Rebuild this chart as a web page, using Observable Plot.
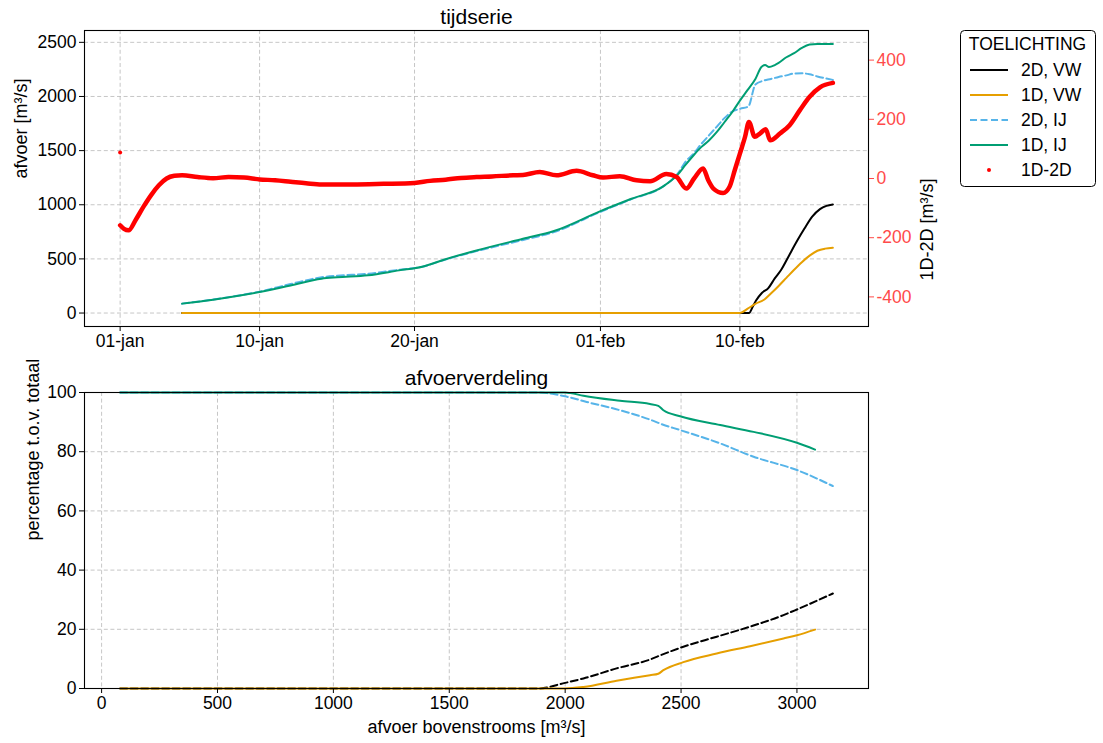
<!DOCTYPE html>
<html><head><meta charset="utf-8">
<script src="https://cdn.jsdelivr.net/npm/d3@7"></script>
<script src="https://cdn.jsdelivr.net/npm/@observablehq/plot@0.6"></script>
<style>
body{margin:0;background:#fff;font-family:"Liberation Sans",Arial,sans-serif;}
#wrap{position:relative;width:1103px;height:743px;overflow:hidden;background:#fff;}
#wrap > *{position:absolute;left:0;}
</style></head><body><div id="wrap"></div>
<script>
// ---------- DATA ----------
const monthNames = ["jan","feb"];
const dateTicks = ["2011-01-01 00","2011-01-10 00","2011-01-20 00","2011-02-01 00","2011-02-10 00"];
const leftTicks = [0,500,1000,1500,2000,2500];
const rightTicks = [-400,-200,0,200,400];
const botXTicks = [0,500,1000,1500,2000,2500,3000];
const botYTicks = [0,20,40,60,80,100];

const seriesNames = ["2D, VW","1D, VW","2D, IJ","1D, IJ","1D-2D"];
const seriesColors = ["#000000","#E69F00","#56B4E9","#009E73","#FF0000"];

// top: 2D, VW (afvoer)
const vw2dTimes = ["2011-01-05 00","2011-02-10 14","2011-02-10 20","2011-02-11 01","2011-02-11 10","2011-02-11 20","2011-02-12 06","2011-02-12 16","2011-02-13 04","2011-02-13 16","2011-02-14 04","2011-02-14 16","2011-02-15 04","2011-02-15 14","2011-02-16 00"];
const vw2dVals = [0,0,60,115,185,230,320,400,530,660,780,890,960,990,1003];
// top: 1D, VW
const vw1dTimes = ["2011-01-05 00","2011-02-10 00","2011-02-10 12","2011-02-11 00","2011-02-11 14","2011-02-12 00","2011-02-12 12","2011-02-13 00","2011-02-13 12","2011-02-14 00","2011-02-14 12","2011-02-15 00","2011-02-15 12","2011-02-16 00"];
const vw1dVals = [0,0,40,85,125,180,250,325,400,470,530,575,595,603];
// top: 2D, IJ
const ij2dTimes = ["2011-01-05 00","2011-01-07 00","2011-01-10 00","2011-01-12 00","2011-01-14 00","2011-01-15 00","2011-01-17 00","2011-01-19 00","2011-01-20 12","2011-01-22 00","2011-01-24 00","2011-01-27 00","2011-01-29 00","2011-02-01 00","2011-02-03 00","2011-02-05 00","2011-02-06 00","2011-02-06 12","2011-02-07 00","2011-02-07 12","2011-02-08 00","2011-02-08 12","2011-02-09 00","2011-02-09 12","2011-02-10 00","2011-02-10 13","2011-02-11 00","2011-02-11 12","2011-02-12 00","2011-02-12 12","2011-02-13 00","2011-02-13 12","2011-02-14 00","2011-02-14 12","2011-02-15 00","2011-02-16 00"];
const ij2dVals = [87,125,198,268,330,345,362,400,428,495,572,675,748,935,1052,1165,1290,1400,1470,1560,1640,1720,1800,1860,1886,1907,2110,2145,2162,2180,2195,2212,2214,2205,2185,2153];
// top: 1D, IJ
const ij1dTimes = ["2011-01-05 00","2011-01-07 00","2011-01-10 00","2011-01-12 00","2011-01-14 00","2011-01-15 00","2011-01-17 00","2011-01-19 00","2011-01-20 12","2011-01-22 00","2011-01-24 00","2011-01-27 00","2011-01-29 00","2011-02-01 00","2011-02-03 00","2011-02-05 00","2011-02-06 00","2011-02-06 12","2011-02-07 00","2011-02-07 12","2011-02-08 00","2011-02-08 12","2011-02-09 00","2011-02-09 12","2011-02-10 00","2011-02-10 12","2011-02-11 00","2011-02-11 09","2011-02-11 15","2011-02-11 21","2011-02-12 06","2011-02-12 12","2011-02-13 00","2011-02-13 12","2011-02-14 00","2011-02-14 12","2011-02-15 00","2011-02-16 00"];
const ij1dVals = [87,123,194,255,317,330,348,394,428,497,578,686,757,941,1055,1165,1280,1370,1455,1532,1593,1670,1762,1854,1962,2061,2162,2270,2290,2272,2290,2310,2362,2400,2448,2479,2485,2485];
// top: 1D-2D (right axis)
const diffTimes = ["2011-01-01 00","2011-01-01 06","2011-01-01 13","2011-01-02 00","2011-01-02 12","2011-01-03 00","2011-01-03 12","2011-01-04 00","2011-01-04 12","2011-01-05 00","2011-01-06 00","2011-01-07 00","2011-01-08 00","2011-01-09 00","2011-01-10 00","2011-01-11 00","2011-01-12 00","2011-01-13 00","2011-01-14 00","2011-01-16 00","2011-01-18 00","2011-01-20 00","2011-01-21 00","2011-01-22 00","2011-01-23 00","2011-01-24 00","2011-01-25 00","2011-01-26 09","2011-01-27 00","2011-01-28 02","2011-01-29 04","2011-01-30 11","2011-01-31 12","2011-02-01 04","2011-02-02 06","2011-02-03 08","2011-02-04 05","2011-02-05 06","2011-02-05 22","2011-02-06 13","2011-02-07 01","2011-02-07 15","2011-02-07 23","2011-02-08 07","2011-02-08 22","2011-02-09 08","2011-02-09 16","2011-02-10 00","2011-02-10 08","2011-02-10 14","2011-02-10 23","2011-02-11 07","2011-02-11 16","2011-02-11 23","2011-02-12 14","2011-02-13 05","2011-02-13 21","2011-02-14 12","2011-02-15 04","2011-02-16 00"];
const diffVals = [-158,-170,-175,-140,-96,-56,-23,0,9,11,5,1,5,3,-3,-6,-11,-16,-20,-20,-18,-15,-8,-4,2,5,7,11,12,22,11,26,11,3,8,-6,-9,15,5,-34,0,34,-6,-34,-49,-28,28,84,141,191,141,152,166,129,152,180,231,276,308,323];
const diffOutlierTimes = ["2011-01-01 00"];
const diffOutlierVals = [88];

// bottom: afvoerverdeling
const vw2dQ = [80,1880,2000,2079,2222,2366,2410,2510,2654,2798,2942,3000,3155];
const vw2dPct = [0,0,1.9,3.4,6.8,9.8,11.2,14.1,17.5,20.9,24.8,26.7,32.1];
const vw1dQ = [80,2000,2079,2222,2366,2402,2424,2510,2654,2798,2942,3000,3078];
const vw1dPct = [0,0,0.5,2.6,4.5,5.0,6.2,8.9,11.8,14.3,16.9,18.0,19.9];
const ij2dQ = [80,1880,2000,2093,2237,2381,2420,2496,2669,2813,3000,3155];
const ij2dPct = [100,100,98.7,96.8,94,90.4,89.2,87.3,82.8,78.3,73.8,68.4];
const ij1dQ = [80,2000,2022,2079,2237,2366,2402,2424,2496,2669,2813,3000,3078];
const ij1dPct = [100,100,99.8,98.9,97.2,96.1,95.5,94,92,89,86.7,83,80.7];

// ---------- BUILD ----------
const parse = d3.utcParse("%Y-%m-%d %H");
const toRows = (xs, ys, px) => xs.map((x, i) => ({x: px ? px(x) : x, y: ys[i]}));

const tVW2D = toRows(vw2dTimes, vw2dVals, parse);
const tVW1D = toRows(vw1dTimes, vw1dVals, parse);
const tIJ2D = toRows(ij2dTimes, ij2dVals, parse);
const tIJ1D = toRows(ij1dTimes, ij1dVals, parse);
const tDiff = toRows(diffTimes, diffVals, parse);
const tOut = toRows(diffOutlierTimes, diffOutlierVals, parse);

const bVW2D = toRows(vw2dQ, vw2dPct);
const bVW1D = toRows(vw1dQ, vw1dPct);
const bIJ2D = toRows(ij2dQ, ij2dPct);
const bIJ1D = toRows(ij1dQ, ij1dPct);

function pad(ext, f = 0.05) { const s = ext[1] - ext[0]; return [ext[0] - f * s, ext[1] + f * s]; }
const allT = [...tVW2D, ...tVW1D, ...tIJ2D, ...tIJ1D, ...tDiff, ...tOut].map(d => +d.x);
const tExt = pad(d3.extent(allT));
const xDomTop = [new Date(tExt[0]), new Date(tExt[1])];
const yDomLeft = pad(d3.extent([...tVW2D, ...tVW1D, ...tIJ2D, ...tIJ1D].map(d => d.y)));
const xDomBot = pad(d3.extent([...bVW2D, ...bVW1D, ...bIJ2D, ...bIJ1D].map(d => d.x)));

const FONT = "'Liberation Sans', Arial, sans-serif";
const FS = 17.5;     // ticks, legend
const FL = 18;       // axis labels
const FT = 21;       // titles
const W = 1103;
const ML = 84, MR = W - 868;
const CURVE = "monotone-x";
const gridStyle = {stroke: "#b8b8b8", strokeOpacity: 1, strokeWidth: 0.8, strokeDasharray: "4,2.6"};
const baseStyle = {fontFamily: FONT, fontSize: FS + "px", background: "transparent", overflow: "visible", color: "#000"};
const fmtInt = d => String(d);
const fmtDate = d => d3.utcFormat("%d")(d) + "-" + monthNames[d.getUTCMonth()];
const dTicks = dateTicks.map(parse);
const lineOpts = (c, dash) => ({x: "x", y: "y", stroke: c, strokeWidth: 2, curve: CURVE, strokeDasharray: dash});

const wrap = document.getElementById("wrap");

// top main (left axis)
const top1 = Plot.plot({
  width: W, height: 360,
  marginLeft: ML, marginRight: MR, marginTop: 30, marginBottom: 34,
  style: baseStyle,
  x: {type: "utc", domain: xDomTop},
  y: {domain: yDomLeft},
  marks: [
    Plot.gridX(dTicks, gridStyle),
    Plot.gridY(leftTicks, gridStyle),
    Plot.line(tVW2D, lineOpts(seriesColors[0])),
    Plot.line(tVW1D, lineOpts(seriesColors[1])),
    Plot.line(tIJ2D, lineOpts(seriesColors[2], "7,3.5")),
    Plot.line(tIJ1D, lineOpts(seriesColors[3])),
    Plot.frame({stroke: "#000", strokeWidth: 1.1}),
    Plot.axisX(dTicks, {tickFormat: fmtDate, tickSize: 5, tickPadding: 3, label: null, fontSize: FS}),
    Plot.axisY(leftTicks, {tickFormat: fmtInt, tickSize: 5, tickPadding: 3, label: null, fontSize: FS}),
    Plot.text(["afvoer [m³/s]"], {frameAnchor: "left", lineAnchor: "middle", text: d => d, rotate: -90, dx: -63, fontSize: FL}),
    Plot.text(["tijdserie"], {frameAnchor: "top", lineAnchor: "middle", text: d => d, dy: -13.5, fontSize: FT})
  ]
});
top1.style.top = "0px";
wrap.appendChild(top1);

// top overlay (right axis)
const top2 = Plot.plot({
  width: W, height: 360,
  marginLeft: ML, marginRight: MR, marginTop: 30, marginBottom: 34,
  style: baseStyle,
  x: {type: "utc", domain: xDomTop, axis: null},
  y: {domain: [-500, 500]},
  marks: [
    Plot.line(tDiff, {x: "x", y: "y", stroke: seriesColors[4], strokeWidth: 4.5, curve: CURVE, strokeLinejoin: "round", strokeLinecap: "round"}),
    Plot.dot(tOut, {x: "x", y: "y", r: 2, fill: seriesColors[4], stroke: null}),
    Plot.axisY(rightTicks, {anchor: "right", tickFormat: fmtInt, tickSize: 5, tickPadding: 3, label: null, color: "#ff4a4a", fontSize: FS}),
    Plot.text(["1D-2D [m³/s]"], {frameAnchor: "right", lineAnchor: "middle", text: d => d, rotate: -90, dx: 59, fontSize: FL})
  ]
});
top2.style.top = "0px";
wrap.appendChild(top2);

// bottom
const bot = Plot.plot({
  width: W, height: 383,
  marginLeft: ML, marginRight: MR, marginTop: 32, marginBottom: 55,
  style: baseStyle,
  x: {domain: xDomBot},
  y: {domain: [0, 100]},
  marks: [
    Plot.gridX(botXTicks, gridStyle),
    Plot.gridY(botYTicks, gridStyle),
    Plot.line(bVW2D, lineOpts(seriesColors[0], "7,3.5")),
    Plot.line(bVW1D, lineOpts(seriesColors[1])),
    Plot.line(bIJ2D, lineOpts(seriesColors[2], "7,3.5")),
    Plot.line(bIJ1D, lineOpts(seriesColors[3])),
    Plot.frame({stroke: "#000", strokeWidth: 1.1}),
    Plot.axisX(botXTicks, {tickFormat: fmtInt, tickSize: 5, tickPadding: 3, label: null, fontSize: FS}),
    Plot.axisY(botYTicks, {tickFormat: fmtInt, tickSize: 5, tickPadding: 3, label: null, fontSize: FS}),
    Plot.text(["percentage t.o.v. totaal"], {frameAnchor: "left", lineAnchor: "middle", text: d => d, rotate: -90, dx: -51, fontSize: FL}),
    Plot.text(["afvoer bovenstrooms [m³/s]"], {frameAnchor: "bottom", lineAnchor: "middle", text: d => d, dy: 39, fontSize: FL}),
    Plot.text(["afvoerverdeling"], {frameAnchor: "top", lineAnchor: "middle", text: d => d, dy: -14, fontSize: FT})
  ]
});
bot.style.top = "360px";
wrap.appendChild(bot);

// legend
const lg = d3.create("svg").attr("width", W).attr("height", 200)
  .style("top", "0px").style("pointer-events", "none")
  .style("font-family", FONT).style("font-size", FS + "px");
lg.append("rect").attr("x", 960.5).attr("y", 30.5).attr("width", 135).attr("height", 156)
  .attr("rx", 4).attr("fill", "#fff").attr("stroke", "#000").attr("stroke-width", 1);
lg.append("text").attr("x", 1027.5).attr("y", 44).attr("dy", "0.35em").attr("text-anchor", "middle").text("TOELICHTING");
const dashes = [null, null, "7,3.5", null, null];
seriesNames.forEach((n, i) => {
  const y = 70 + i * 25;
  if (i < 4) {
    lg.append("line").attr("x1", 970).attr("x2", 1008).attr("y1", y).attr("y2", y)
      .attr("stroke", seriesColors[i]).attr("stroke-width", 2).attr("stroke-dasharray", dashes[i]);
  } else {
    lg.append("circle").attr("cx", 989).attr("cy", y).attr("r", 2).attr("fill", seriesColors[i]);
  }
  lg.append("text").attr("x", 1021).attr("y", y).attr("dy", "0.35em").text(n);
});
wrap.appendChild(lg.node());
</script></body></html>
